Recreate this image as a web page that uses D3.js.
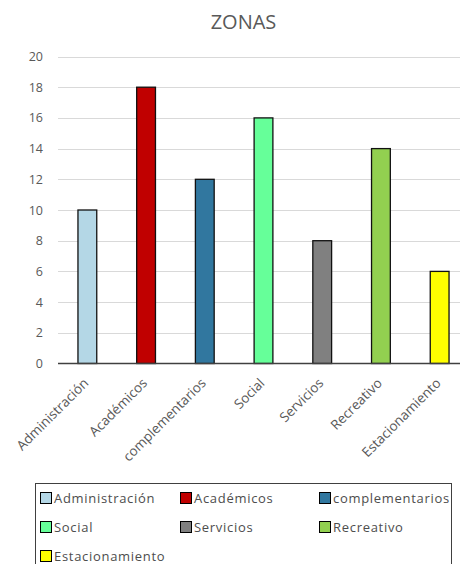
<!DOCTYPE html>
<html><head><meta charset="utf-8">
<script src="https://cdn.jsdelivr.net/npm/d3@7/dist/d3.min.js"></script>
<style>body{margin:0;background:#fff;overflow:hidden}svg{display:block}</style>
</head><body>
<script>
const categories = ["Administración","Académicos","complementarios","Social","Servicios","Recreativo","Estacionamiento"];
const values = [10,18,12,16,8,14,6];
const colors = ["#b4d7e6","#c00000","#31779f","#66ff99","#808080","#92d050","#ffff00"];
const yTicks = [0,2,4,6,8,10,12,14,16,18,20];
const title = "ZONAS";

const W=460,H=564;
const svg=d3.select("body").append("svg").attr("width",W).attr("height",H);
const font="'Open Sans', sans-serif";
const x=d3.scaleBand().domain(categories).range([58,469]).paddingInner(0.68).paddingOuter(0.34);
const y=d3.scaleLinear().domain([0,20]).range([363.5,56.5]);

svg.append("text").attr("x",243.5).attr("y",28.5).attr("text-anchor","middle")
  .attr("font-family",font).attr("font-size",20).attr("fill","#595959").text(title);

const g=svg.append("g");
g.selectAll("line.grid").data(yTicks.filter(d=>d>0)).join("line")
  .attr("x1",58).attr("x2",W).attr("y1",d=>Math.round(y(d))+0.5).attr("y2",d=>Math.round(y(d))+0.5)
  .attr("stroke","#d9d9d9").attr("stroke-width",1);
g.selectAll("text.yt").data(yTicks).join("text")
  .attr("x",43).attr("y",d=>y(d)+4.5).attr("text-anchor","end")
  .attr("font-family",font).attr("font-size",12.5).attr("fill","#595959").text(d=>d);

g.selectAll("rect.bar").data(values).join("rect")
  .attr("x",(d,i)=>x(categories[i])).attr("width",x.bandwidth())
  .attr("y",d=>y(d)).attr("height",d=>y(0)-y(d))
  .attr("fill",(d,i)=>colors[i]).attr("stroke","#111").attr("stroke-width",1.3);

g.append("line").attr("x1",58).attr("x2",W).attr("y1",y(0)).attr("y2",y(0))
  .attr("stroke","#404040").attr("stroke-width",1.5);

g.selectAll("text.xl").data(categories).join("text")
  .attr("transform",d=>`translate(${x(d)+x.bandwidth()/2+2},${384}) rotate(-45)`)
  .attr("text-anchor","end").attr("font-family",font).attr("font-size",13.5)
  .attr("fill","#595959").text(d=>d);

// legend
svg.append("rect").attr("x",35.5).attr("y",483.5).attr("width",416).attr("height",100)
  .attr("fill","#fff").attr("stroke","#404040").attr("stroke-width",1);
const cols=[40,180,319], rows=[498,527,556];
const lg=svg.selectAll("g.lg").data(categories).join("g")
  .attr("transform",(d,i)=>`translate(${cols[i%3]},${rows[Math.floor(i/3)]})`);
lg.append("rect").attr("x",0.5).attr("y",-5.5).attr("width",11).attr("height",11)
  .attr("fill",(d,i)=>colors[i]).attr("stroke","#000").attr("stroke-width",1);
lg.append("text").attr("x",14).attr("y",5).attr("font-family",font).attr("font-size",13)
  .attr("fill","#4d4d4d").attr("letter-spacing",0.7).text(d=>d);
</script>
</body></html>
